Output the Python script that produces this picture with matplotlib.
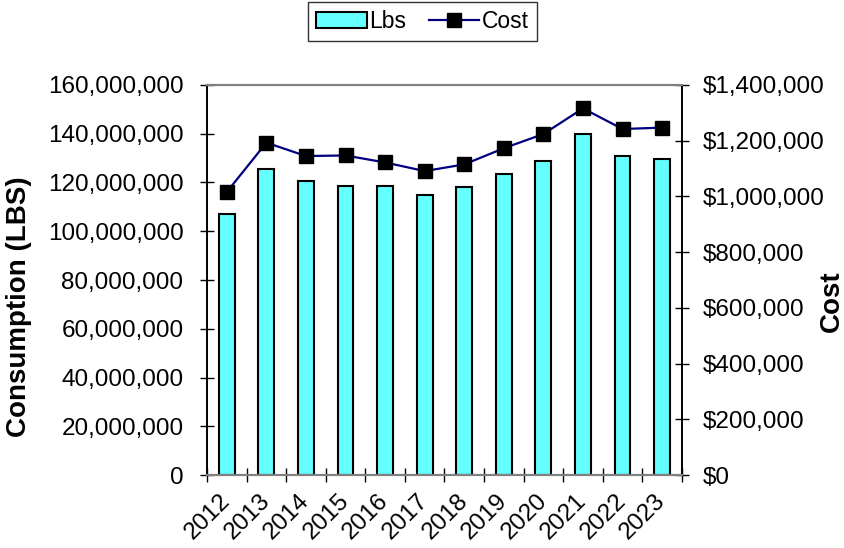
import matplotlib
matplotlib.use("Agg")
import matplotlib.pyplot as plt
from matplotlib.ticker import FuncFormatter
from matplotlib.patches import Patch
from matplotlib.lines import Line2D

# data
years = ["2012", "2013", "2014", "2015", "2016", "2017",
         "2018", "2019", "2020", "2021", "2022", "2023"]
lbs = [107.1e6, 125.5e6, 120.6e6, 118.7e6, 118.4e6, 114.7e6,
       118.0e6, 123.4e6, 128.8e6, 139.8e6, 130.7e6, 129.5e6]
cost = [1016000, 1193000, 1145000, 1147000, 1122000, 1091000,
        1115000, 1173000, 1224000, 1316000, 1242000, 1247000]

plt.rcParams['font.family'] = ['Liberation Sans', 'DejaVu Sans']
fs = 17.5

fig = plt.figure(figsize=(8.45, 5.48), dpi=100)
ax = fig.add_axes([0.245, 0.1332, 0.562, 0.7117])
ax2 = ax.twinx()

x = list(range(len(years)))
ax.bar(x, lbs, width=0.4, color='#66FFFF', edgecolor='black', linewidth=1.5, zorder=2)
ax2.plot(x, cost, color='#000080', linewidth=1.6, marker='s', markersize=10,
         markerfacecolor='black', markeredgecolor='black', zorder=3)

ax.set_xlim(-0.5, len(years) - 0.5)
ax.set_ylim(0, 160e6)
ax2.set_ylim(0, 1.4e6)
ax.set_yticks([i * 20e6 for i in range(9)])
ax2.set_yticks([i * 200000 for i in range(8)])
ax.yaxis.set_major_formatter(FuncFormatter(lambda v, p: "{:,.0f}".format(v)))
ax2.yaxis.set_major_formatter(FuncFormatter(lambda v, p: "${:,.0f}".format(v)))

# ticks between categories, labels at the centres
ax.set_xticks([i - 0.5 for i in range(len(years) + 1)])
ax.set_xticklabels([])
ax.set_xticks(x, minor=True)
ax.set_xticklabels(years, minor=True, rotation=45, ha='right', va='center',
                   rotation_mode='anchor', fontsize=fs)
ax.tick_params(axis='x', which='major', direction='inout', length=10, width=1)
ax.tick_params(axis='x', which='minor', length=0, pad=16)

ax.tick_params(axis='y', direction='inout', length=10, width=1, labelsize=fs, pad=12)
ax2.tick_params(axis='y', direction='inout', length=10, width=1, labelsize=fs, pad=10)

for a in (ax, ax2):
    a.spines['top'].set_color('#808080')
    a.spines['bottom'].set_color('#808080')
    a.spines['top'].set_linewidth(1.5)
    a.spines['bottom'].set_linewidth(1.5)
    a.spines['left'].set_linewidth(1.2)
    a.spines['right'].set_linewidth(1.2)

fig.text(0.022, 0.44, "Consumption (LBS)", rotation=90, ha='center', va='center',
         fontsize=20, fontweight='bold')
fig.text(0.985, 0.451, "Cost", rotation=90, ha='center', va='center',
         fontsize=20, fontweight='bold')

handles = [Patch(facecolor='#66FFFF', edgecolor='black', linewidth=1.5),
           Line2D([], [], color='#000080', linewidth=1.6, marker='s', markersize=10,
                  markerfacecolor='black', markeredgecolor='black')]
leg = fig.legend(handles, ["Lbs", "Cost"], loc='center', bbox_to_anchor=(0.5, 0.961),
                 ncol=2, fontsize=16.5, frameon=True, fancybox=False, handlelength=2.2,
                 handletextpad=0.1, columnspacing=1.0, borderpad=0.35)
leg.get_frame().set_edgecolor('black')
leg.get_frame().set_linewidth(1.0)

fig.savefig("out.png", dpi=100)
